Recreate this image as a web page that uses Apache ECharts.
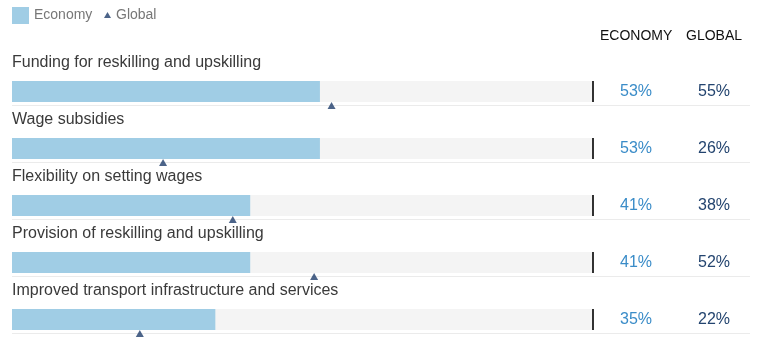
<!DOCTYPE html>
<html>
<head>
<meta charset="utf-8">
<script src="https://cdn.jsdelivr.net/npm/echarts@6/dist/echarts.min.js"></script>
<style>
  html, body { margin: 0; padding: 0; background: #fff; }
  #chart { width: 758px; height: 341px; }
</style>
</head>
<body>
<div id="chart"></div>
<script>
var categories = [
    'Funding for reskilling and upskilling',
    'Wage subsidies',
    'Flexibility on setting wages',
    'Provision of reskilling and upskilling',
    'Improved transport infrastructure and services'
];
// economy share, %
var economyValues = [53, 53, 41, 41, 35];
// global share, %
var globalValues = [55, 26, 38, 52, 22];
var fullScale = 100;
var headers = ['ECONOMY', 'GLOBAL'];

var chart = echarts.init(document.getElementById('chart'));

var trackData = categories.map(function () { return fullScale; });
var globalData = globalValues.map(function (v, i) { return [v, categories[i]]; });
var endData = categories.map(function (c) { return [fullScale, c]; });

var option = {
    animation: false,
    textStyle: { fontFamily: 'Liberation Sans, Arial, sans-serif' },
    legend: [{
        left: 12,
        top: 7,
        padding: 0,
        itemWidth: 17,
        itemHeight: 17,
        icon: 'rect',
        textStyle: { fontSize: 14, color: '#777' },
        data: ['Economy']
    }, {
        left: 104,
        top: 8,
        padding: 0,
        itemWidth: 7,
        itemHeight: 6,
        icon: 'triangle',
        textStyle: { fontSize: 14, color: '#777' },
        data: ['Global']
    }],
    grid: [
        { left: 12, width: 581, top: 63, height: 285, outerBoundsMode: 'none' },
        // only for the thin row separators
        { left: 12, right: 8, top: 48, height: 285, outerBoundsMode: 'none' }
    ],
    xAxis: [
        { type: 'value', min: 0, max: fullScale, show: false, gridIndex: 0 },
        { type: 'value', min: 0, max: 1, show: false, gridIndex: 1 }
    ],
    yAxis: [{
        type: 'category',
        gridIndex: 0,
        inverse: true,
        position: 'right',
        data: categories,
        axisLine: { show: false },
        axisTick: { show: false },
        splitLine: { show: false },
        axisLabel: {
            interval: 0,
            margin: 0,
            align: 'left',
            formatter: function (val, idx) {
                return '{a|' + economyValues[idx] + '%}{b|' + globalValues[idx] + '%}';
            },
            rich: {
                a: { width: 86, align: 'center', fontSize: 16, color: '#3a8cc8' },
                b: { width: 70, align: 'center', fontSize: 16, color: '#23446f' }
            }
        }
    }, {
        type: 'category',
        gridIndex: 1,
        data: categories,
        axisLine: { show: false },
        axisTick: { show: false },
        axisLabel: { show: false },
        splitLine: {
            show: true,
            showMaxLine: false,
            lineStyle: { color: '#ebebeb', width: 1 }
        }
    }],
    graphic: [{
        type: 'text',
        left: 600,
        top: 29,
        style: { text: headers[0], font: '14px Liberation Sans, Arial, sans-serif', fill: '#111' }
    }, {
        type: 'text',
        left: 686,
        top: 29,
        style: { text: headers[1], font: '14px Liberation Sans, Arial, sans-serif', fill: '#111' }
    }],
    series: [{
        name: 'track',
        type: 'bar',
        silent: true,
        barWidth: 21,
        data: trackData,
        itemStyle: { color: '#f4f4f4' },
        label: {
            show: true,
            position: [0, -26],
            formatter: '{b}',
            fontSize: 16,
            color: '#3a3a3a'
        },
        z: 1
    }, {
        name: 'Economy',
        type: 'bar',
        barWidth: 21,
        barGap: '-100%',
        data: economyValues,
        itemStyle: { color: '#a0cde5' },
        z: 2
    }, {
        name: 'end',
        type: 'scatter',
        symbol: 'rect',
        symbolSize: [2, 21],
        data: endData,
        itemStyle: { color: '#000' },
        z: 3
    }, {
        name: 'Global',
        type: 'scatter',
        symbol: 'triangle',
        symbolSize: [8, 7],
        symbolOffset: [0, 14],
        data: globalData,
        itemStyle: { color: '#1f3d6b' },
        z: 4
    }]
};

chart.setOption(option);
</script>
</body>
</html>
